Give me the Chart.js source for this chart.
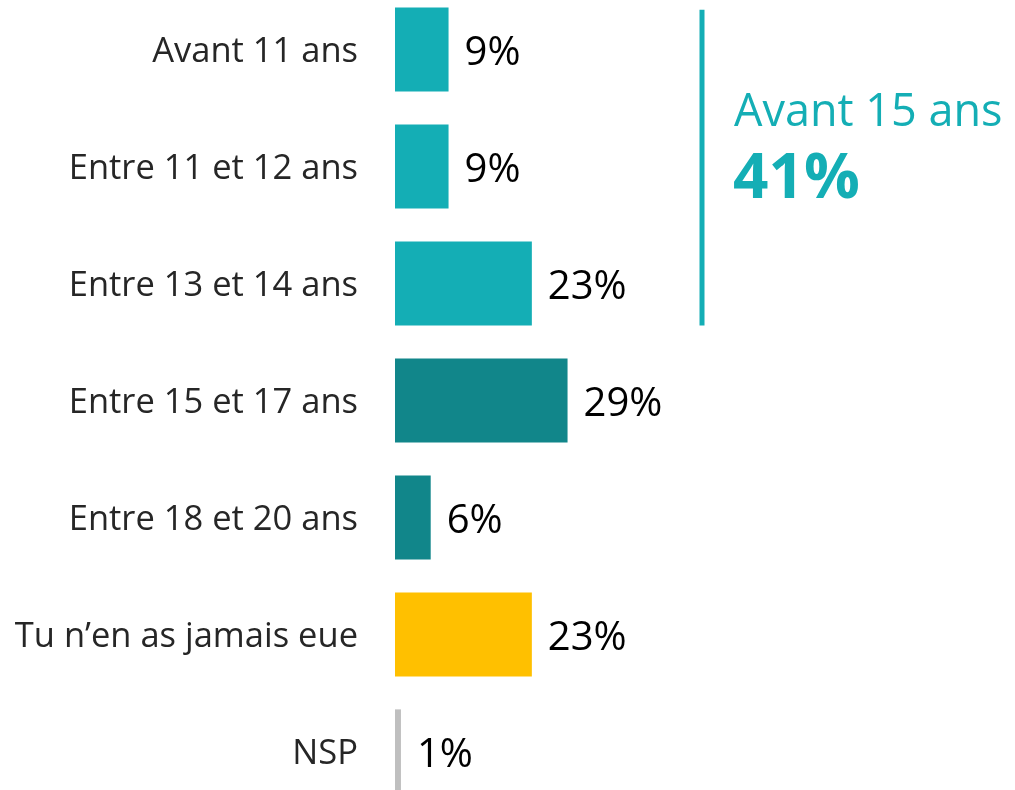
<!DOCTYPE html>
<html>
<head>
<meta charset="utf-8">
<script src="https://cdn.jsdelivr.net/npm/chart.js@4/dist/chart.umd.min.js"></script>
<style>
  html, body { margin: 0; padding: 0; background: #fff; overflow: hidden; }
  #wrap { position: absolute; left: 0; top: -9px; width: 1015px; height: 819px; }
</style>
</head>
<body>
<div id="wrap"><canvas id="chart"></canvas></div>
<script>
// Données
const categories = ['Avant 11 ans', 'Entre 11 et 12 ans', 'Entre 13 et 14 ans', 'Entre 15 et 17 ans', 'Entre 18 et 20 ans', 'Tu n\u2019en as jamais eue', 'NSP'];
const values = [9, 9, 23, 29, 6, 23, 1];
const barColors = ['#14AEB5', '#14AEB5', '#14AEB5', '#11868A', '#11868A', '#FFC000', '#BFBFBF'];

// Annotation "Avant 15 ans"
const groupTitle = 'Avant 15 ans';
const groupValue = '41%';
const groupFirst = 0;
const groupLast = 2;

const teal = '#14AEB5';
const fontFamily = "'Open Sans', 'Noto Sans', sans-serif";

// étiquettes de valeur à droite des barres
const valueLabels = {
    id: 'valueLabels',
    afterDatasetsDraw(chart) {
        const ctx = chart.ctx;
        const meta = chart.getDatasetMeta(0);
        ctx.save();
        ctx.font = '40px ' + fontFamily;
        ctx.fillStyle = '#000000';
        ctx.textAlign = 'left';
        ctx.textBaseline = 'middle';
        meta.data.forEach((bar, i) => {
            ctx.fillText(values[i] + '%', bar.x + 16, bar.y + 4);
        });
        ctx.restore();
    }
};

// ligne verticale + texte du regroupement
const groupAnnotation = {
    id: 'groupAnnotation',
    afterDraw(chart) {
        const ctx = chart.ctx;
        const y = chart.scales.y;
        const step = y.getPixelForValue(1) - y.getPixelForValue(0);
        const top = y.getPixelForValue(groupFirst) - step * 0.34;
        const bottom = y.getPixelForValue(groupLast) + step * 0.36;
        const lx = 702;
        ctx.save();
        ctx.strokeStyle = teal;
        ctx.lineWidth = 5;
        ctx.beginPath();
        ctx.moveTo(lx, top);
        ctx.lineTo(lx, bottom);
        ctx.stroke();

        ctx.fillStyle = teal;
        ctx.textAlign = 'left';
        ctx.textBaseline = 'alphabetic';
        ctx.font = '45px ' + fontFamily;
        ctx.fillText(groupTitle, lx + 32, 135);
        ctx.font = 'bold 62px ' + fontFamily;
        ctx.fillText(groupValue, lx + 31, 207);
        ctx.restore();
    }
};

document.addEventListener('DOMContentLoaded', () => {
    const ctx = document.getElementById('chart').getContext('2d');
    new Chart(ctx, {
        type: 'bar',
        data: {
            labels: categories,
            datasets: [{
                data: values,
                backgroundColor: barColors,
                borderWidth: 0,
                barPercentage: 0.72,
                categoryPercentage: 1
            }]
        },
        options: {
            indexAxis: 'y',
            responsive: true,
            maintainAspectRatio: false,
            animation: false,
            layout: { padding: { left: 0, right: 25, top: 0, bottom: 0 } },
            plugins: {
                legend: { display: false },
                tooltip: { enabled: false }
            },
            scales: {
                x: {
                    display: false,
                    min: 0,
                    max: 100
                },
                y: {
                    grid: { display: false, drawTicks: false },
                    border: { display: false },
                    ticks: {
                        color: '#262626',
                        padding: 37,
                        labelOffset: 3,
                        font: { family: fontFamily, size: 34.5 }
                    },
                    afterFit(scale) {
                        scale.width = 395;
                        scale.paddingTop = 0;
                        scale.paddingBottom = 0;
                    }
                }
            }
        },
        plugins: [valueLabels, groupAnnotation]
    });
});
</script>
</body>
</html>
